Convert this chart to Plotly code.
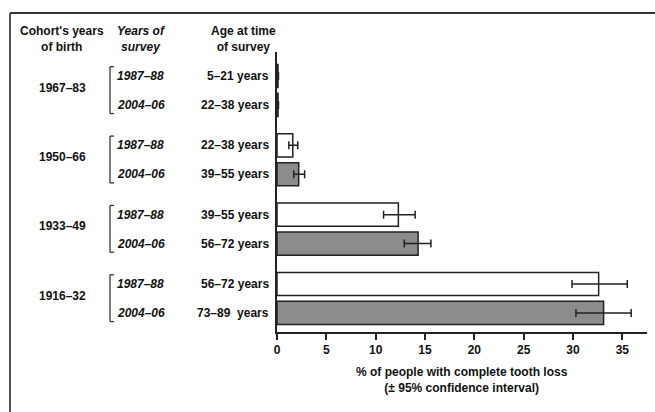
import plotly.graph_objects as go

# ---- data ----
cohorts = ["1967–83", "1950–66", "1933–49", "1916–32"]
survey_years = ["1987–88", "2004–06"]
ages_1987 = ["5–21 years", "22–38 years", "39–55 years", "56–72 years"]
ages_2004 = ["22–38 years", "39–55 years", "56–72 years", "73–89  years"]
val_1987 = [0.1, 1.6, 12.3, 32.6]
lo_1987 = [0.05, 1.2, 10.8, 29.9]
hi_1987 = [0.15, 2.1, 14.0, 35.5]
val_2004 = [0.1, 2.2, 14.3, 33.1]
lo_2004 = [0.05, 1.7, 12.9, 30.3]
hi_2004 = [0.15, 2.8, 15.6, 35.9]
x_ticks = [0, 5, 10, 15, 20, 25, 30, 35]

FONT = "Liberation Sans, Arial, sans-serif"
W, H = 655, 412
L, R, T, B = 277, 8, 52, 80
PW, PH = W - L - R, H - T - B
GROUP_STEP = 2.4

def xp(px):
    return (px - L) / PW

def yp(py):
    return (H - B - py) / PH

pos_1987 = [g * GROUP_STEP for g in range(len(cohorts))]
pos_2004 = [g * GROUP_STEP + 1 for g in range(len(cohorts))]

fig = go.Figure()
fig.add_trace(go.Bar(
    y=pos_1987, x=val_1987, orientation="h", width=0.8,
    marker=dict(color="white", line=dict(color="#222", width=1.5)),
    error_x=dict(type="data", symmetric=False,
                 array=[h - v for h, v in zip(hi_1987, val_1987)],
                 arrayminus=[v - l for v, l in zip(val_1987, lo_1987)],
                 color="#222", thickness=1.5, width=4),
    name=survey_years[0], showlegend=False))
fig.add_trace(go.Bar(
    y=pos_2004, x=val_2004, orientation="h", width=0.8,
    marker=dict(color="#8c8c8c", line=dict(color="#222", width=1.5)),
    error_x=dict(type="data", symmetric=False,
                 array=[h - v for h, v in zip(hi_2004, val_2004)],
                 arrayminus=[v - l for v, l in zip(val_2004, lo_2004)],
                 color="#222", thickness=1.5, width=4),
    name=survey_years[1], showlegend=False))

ann = []
shapes = []
txt = dict(family=FONT, size=12, color="#111")

def add_text(x, y, text, yref="paper", xanchor="center", align="center"):
    ann.append(dict(x=x, y=y, xref="paper", yref=yref, showarrow=False, text=text,
                    font=txt, xanchor=xanchor, yanchor="middle", align=align))

# headers
add_text(xp(62), yp(39), "<b>Cohort's years<br>of birth</b>")
add_text(xp(141), yp(39), "<b><i>Years of<br>survey</i></b>")
add_text(xp(243), yp(39), "<b>Age at time<br>of survey</b>")

for g, c in enumerate(cohorts):
    y0, y1 = pos_1987[g], pos_2004[g]
    add_text(xp(62), (y0 + y1) / 2 - 0.1, f"<b>{c}</b>", yref="y")
    add_text(xp(115), y0, f"<b><i>{survey_years[0]}</i></b>", yref="y", xanchor="left")
    add_text(xp(115), y1, f"<b><i>{survey_years[1]}</i></b>", yref="y", xanchor="left")
    add_text(xp(271), y0, f"<b>{ages_1987[g]}</b>", yref="y", xanchor="right")
    add_text(xp(271), y1, f"<b>{ages_2004[g]}</b>", yref="y", xanchor="right")
    # bracket
    bx0, bx1 = xp(110), xp(114)
    ya, yb = y0 - 0.32, y1 + 0.3
    for sx0, sx1, sy0, sy1 in [(bx0, bx0, ya, yb), (bx0, bx1, ya, ya), (bx0, bx1, yb, yb)]:
        shapes.append(dict(type="line", xref="paper", yref="y", x0=sx0, x1=sx1, y0=sy0, y1=sy1,
                           line=dict(color="#333", width=1.3)))

# axis title
add_text(xp(462), yp(380),
         "<b>% of people with complete tooth loss<br>(± 95% confidence interval)</b>")

# frame (top and left lines)
shapes.append(dict(type="line", xref="paper", yref="paper", x0=xp(10), x1=xp(660),
                   y0=yp(13), y1=yp(13), line=dict(color="#333", width=2)))
shapes.append(dict(type="line", xref="paper", yref="paper", x0=xp(10), x1=xp(10),
                   y0=yp(13), y1=yp(420), line=dict(color="#555", width=2)))

fig.update_layout(
    width=W, height=H, margin=dict(l=L, r=R, t=T, b=B),
    paper_bgcolor="white", plot_bgcolor="white",
    barmode="overlay", annotations=ann, shapes=shapes,
    font=dict(family=FONT, size=12, color="#111"),
    xaxis=dict(range=[0, 37.5], tickvals=x_ticks, ticktext=[f"<b>{t}</b>" for t in x_ticks],
               showline=True, linecolor="#222", linewidth=1.5, ticks="outside",
               ticklen=6, tickwidth=1.5, tickcolor="#222", showgrid=False, zeroline=False,
               tickfont=dict(family=FONT, size=12, color="#111")),
    yaxis=dict(range=[8.86, -0.83], showline=True, linecolor="#222", linewidth=1.5,
               showticklabels=False, ticks="", showgrid=False, zeroline=False),
)
fig.write_html("out.html", config={"displayModeBar": False},
               post_script="document.body.style.margin='0';document.body.style.overflow='hidden';")
